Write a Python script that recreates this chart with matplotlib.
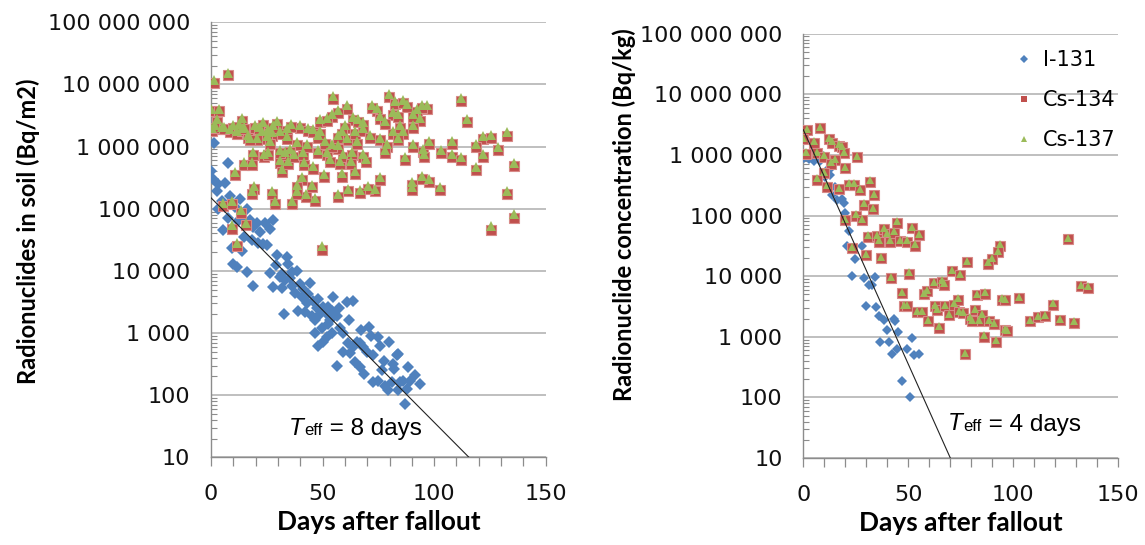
import numpy as np
import matplotlib.pyplot as plt
from matplotlib.ticker import FixedLocator, FuncFormatter, LogLocator, MultipleLocator, NullFormatter
from matplotlib.lines import Line2D

# ---- soil (left panel) ----
soil_cs_days = [1.3, 7.8, 0, 3.7, 0.3, 2.5, 4.8, 8.5, 11.5, 13.7, 13.7, 16.7, 19.7, 23.4, 25.7, 29.4, 33.9, 39.9, 43.6, 48.8,
                54.1, 54.8, 60.8, 63.8, 68.3, 74.2, 75.7, 79.7, 82.4, 81.7, 87.7, 92.2, 96.6, 93.6, 90.6, 86.2, 111.9, 114.6, 121.7, 125.7,
                132.7, 128.7, 118.7, 121.7, 135.7, 107.8, 107.8, 102.9, 111.9, 118.6, 132.7, 135.7, 125.7, 49.9, 102.6, 97.7, 94.4, 89.9, 90.2, 86.9,
                75.7, 73.5, 70.5, 66.8, 61.5, 56.8, 64.5, 58.6, 50.6, 46.6, 42.6, 45.1, 40.6, 38.4, 38.4, 36.2, 28.7, 27.2, 19.3, 18.5,
                10.8, 14.9, 18.2, 18.7, 23.7, 25.7, 30.9, 31.7, 34.6, 37.3, 41.3, 41.8, 45.8, 48.1, 51.8, 53.3, 57.8, 59.3, 63.0, 62.9,
                68.3, 69.5, 65.3, 60.8, 57.1, 54.1, 51.1, 48.1, 45.8, 48.8, 42.9, 38.4, 35.4, 33.2, 30.9, 34.2, 30.9, 27.2, 25.0, 22.7,
                20.5, 17.5, 26.4, 75.7, 78.7, 78.0, 81.7, 83.9, 84.7, 90.6, 84.0, 78.0, 60.0, 58.6, 56.8, 64.5, 68.3, 71.3, 90.6, 95.1,
                95.6, 97.7, 5.5, 9.3, 13.4, 9.5, 15.5, 11.5, 2.0, 6.0, 10.0, 12.5, 15.0, 21.5, 28.0, 36.0, 52.0, 57.0, 66.0, 72.0,
                86.0, 94.5]
soil_cs134 = [1.05e7, 1.4e7, 3.7e6, 3.7e6, 1.8e6, 2.5e6, 1.9e6, 1.7e6, 1.6e6, 2.6e6, 1.8e6, 1.4e6, 2.0e6, 2.2e6, 1.7e6, 2.3e6, 1.8e6, 2.0e6, 1.8e6, 2.5e6,
              3.0e6, 5.9e6, 4.1e6, 2.7e6, 2.2e6, 3.8e6, 2.8e6, 6.3e6, 4.9e6, 3.2e6, 4.4e6, 3.6e6, 4.1e6, 2.6e6, 2.0e6, 1.6e6, 5.4e6, 2.5e6, 1.35e6, 1.4e6,
              1.5e6, 8.7e5, 9.8e5, 6.8e5, 4.8e5, 1.1e6, 6.9e5, 7.8e5, 6.2e5, 4.2e5, 1.7e5, 7.2e4, 4.6e4, 2.2e4, 2.0e5, 2.7e5, 3.0e5, 2.4e5, 2.0e5, 6.0e5,
              2.9e5, 1.9e5, 2.1e5, 1.8e5, 1.9e5, 1.55e5, 3.6e5, 3.3e5, 3.2e5, 1.35e5, 1.55e5, 2.2e5, 2.9e5, 2.2e5, 1.7e5, 1.2e5, 1.2e5, 1.7e5, 2.1e5, 1.7e5,
              3.5e5, 5.0e5, 5.0e5, 7.4e5, 6.9e5, 7.4e5, 5.4e5, 3.9e5, 5.2e5, 6.8e5, 7.4e5, 5.0e5, 4.4e5, 7.8e5, 7.2e5, 5.6e5, 5.2e5, 6.8e5, 7.2e5, 5.2e5,
              6.8e5, 5.6e5, 1.1e6, 1.26e6, 9.3e5, 9.8e5, 1.1e6, 1.4e6, 1.7e6, 1.6e6, 9.8e5, 1.05e6, 8.1e5, 7.2e5, 7.8e5, 1.35e6, 1.6e6, 1.5e6, 1.35e6, 1.6e6,
              1.26e6, 1.26e6, 1.1e6, 1.26e6, 9.8e5, 7.8e5, 1.6e6, 1.26e6, 2.0e6, 3.0e6, 3.0e6, 2.3e6, 2.0e6, 1.6e6, 1.4e6, 1.6e6, 1.8e6, 1.4e6, 9.8e5, 8.1e5,
              6.8e5, 1.1e6, 1.1e5, 1.2e5, 8.5e4, 4.8e4, 5.4e4, 2.5e4, 2.0e6, 1.9e6, 2.0e6, 2.1e6, 1.9e6, 1.9e6, 2.0e6, 2.1e6, 2.6e6, 3.5e6, 2.5e6, 4.2e6,
              5.0e6, 4.2e6]
soil_cs137 = [1.2e7, 1.55e7, 4.1e6, 4.1e6, 2.0e6, 2.8e6, 2.1e6, 1.9e6, 1.8e6, 2.9e6, 2.0e6, 1.55e6, 2.25e6, 2.45e6, 1.9e6, 2.6e6, 2.0e6, 2.25e6, 2.0e6, 2.8e6,
              3.35e6, 6.6e6, 4.6e6, 3.0e6, 2.45e6, 4.25e6, 3.15e6, 7.0e6, 5.5e6, 3.6e6, 4.9e6, 4.0e6, 4.6e6, 2.9e6, 2.25e6, 1.8e6, 6.0e6, 2.8e6, 1.5e6, 1.55e6,
              1.7e6, 9.7e5, 1.1e6, 7.6e5, 5.4e5, 1.25e6, 7.7e5, 8.7e5, 6.9e5, 4.7e5, 1.9e5, 8.1e4, 5.2e4, 2.5e4, 2.25e5, 3.0e5, 3.35e5, 2.7e5, 2.25e5, 6.7e5,
              3.25e5, 2.1e5, 2.35e5, 2.0e5, 2.1e5, 1.75e5, 4.0e5, 3.7e5, 3.6e5, 1.5e5, 1.75e5, 2.45e5, 3.25e5, 2.45e5, 1.9e5, 1.35e5, 1.35e5, 1.9e5, 2.35e5, 1.9e5,
              3.9e5, 5.6e5, 5.6e5, 8.3e5, 7.7e5, 8.3e5, 6.0e5, 4.4e5, 5.8e5, 7.6e5, 8.3e5, 5.6e5, 4.9e5, 8.7e5, 8.1e5, 6.3e5, 5.8e5, 7.6e5, 8.1e5, 5.8e5,
              7.6e5, 6.3e5, 1.25e6, 1.4e6, 1.05e6, 1.1e6, 1.25e6, 1.55e6, 1.9e6, 1.8e6, 1.1e6, 1.2e6, 9.1e5, 8.1e5, 8.7e5, 1.5e6, 1.8e6, 1.7e6, 1.5e6, 1.8e6,
              1.4e6, 1.4e6, 1.25e6, 1.4e6, 1.1e6, 8.7e5, 1.8e6, 1.4e6, 2.25e6, 3.35e6, 3.35e6, 2.6e6, 2.25e6, 1.8e6, 1.55e6, 1.8e6, 2.0e6, 1.55e6, 1.1e6, 9.1e5,
              7.6e5, 1.25e6, 1.25e5, 1.35e5, 9.5e4, 5.4e4, 6.0e4, 2.8e4, 2.25e6, 2.1e6, 2.25e6, 2.35e6, 2.1e6, 2.1e6, 2.25e6, 2.35e6, 2.9e6, 3.9e6, 2.8e6, 4.7e6,
              5.6e6, 4.7e6]
soil_i_days = [1.3, 7.8, 0, 0.8, 3.3, 6.3, 2.5, 8.5, 13, 4.8, 6.3, 10.8, 16, 13.7, 7.8, 17.5, 20.5, 24.2, 27.9, 26.4,
               19, 5.5, 18.2, 21.2, 23.4, 24.9, 9.3, 13.7, 29.4, 33.9, 10, 11.5, 16, 26.4, 31.7, 38.7, 34.6, 18.7, 30.9, 27.6,
               31.7, 33.2, 35.4, 36.2, 37.6, 39.9, 41.4, 40.6, 43.6, 39.1, 32.7, 43.2, 45.8, 48.1, 47.4, 45.1, 42.1, 46.6, 50.3, 52.6,
               54.1, 51.8, 48.8, 54.8, 56.6, 52.6, 49.6, 46.6, 54.1, 57.8, 59.3, 60.8, 63.8, 56.3, 50.3, 48.1, 51.8, 59.3, 61.5, 63.8,
               62.3, 65.3, 66.8, 68.3, 69.8, 70.9, 64.5, 66.8, 68.5, 72.7, 75, 75.7, 79.9, 76.5, 72.7, 75, 78, 79.5, 81, 81.7,
               83.2, 84, 82.2, 84.7, 83.9, 86.2, 88.4, 89.1, 91.4, 93.6, 86.9, 22, 15, 36.5, 44.5, 57.5, 53.5, 62, 67, 71.5,
               77.5, 88, 29, 12, 3]
soil_i131 = [1.15e6, 5.5e5, 4.1e5, 3.0e5, 2.5e5, 2.6e5, 1.95e5, 1.6e5, 1.45e5, 1.35e5, 1.07e5, 1.07e5, 1.0e5, 7.2e4, 7.2e4, 6.5e4, 6.0e4, 6.0e4, 6.5e4, 4.8e4,
             5.0e4, 4.5e4, 3.1e4, 2.8e4, 2.75e4, 2.6e4, 2.3e4, 2.1e4, 1.8e4, 1.65e4, 1.3e4, 1.15e4, 9.5e3, 9.1e3, 8.9e3, 1.0e4, 1.3e4, 5.8e3, 7.9e3, 5.6e3,
             5.4e3, 7.1e3, 7.8e3, 5.8e3, 4.4e3, 6.2e3, 5.1e3, 3.8e3, 4.3e3, 2.3e3, 2.0e3, 3.0e3, 3.3e3, 3.5e3, 2.5e3, 1.9e3, 2.2e3, 1.6e3, 2.6e3, 2.6e3,
             2.3e3, 2.0e3, 2.0e3, 3.8e3, 1.9e3, 1.4e3, 1.2e3, 1.0e3, 1.0e3, 1.2e3, 1.0e3, 3.2e3, 3.3e3, 300, 710, 630, 850, 490, 680, 590,
             470, 710, 680, 590, 490, 1.26e3, 340, 280, 220, 440, 850, 630, 710, 250, 160, 170, 140, 120, 160, 320,
             440, 460, 260, 160, 120, 170, 280, 170, 210, 150, 71, 4.2e4, 3.5e4, 9.5e3, 6.3e3, 2.5e3, 1.6e3, 1.6e3, 1.1e3, 890,
             350, 125, 1.26e4, 6.3e4, 1.0e5]
soil_fit_days = [0, 115.6]
soil_fit_vals = [1.5e5, 10]

# ---- concentration (right panel) ----
conc_cs_days = [1.8, 7.8, 0, 4.9, 12, 13.6, 16.8, 18.3, 19.2, 1.3, 6.5, 9.7, 25.6, 14.9, 13.3, 20, 9.7, 6.5, 11.3, 16.8,
                21.6, 24, 27.1, 31.9, 33.8, 28.7, 33, 25.2, 27.9, 20, 30.8, 35.1, 38.2, 39.8, 41.4, 43, 44.6, 46.2, 49.4, 51.7,
                54.9, 53, 35.9, 23.2, 29.8, 37.1, 41.9, 50.1, 47, 47.8, 49.4, 54.1, 56.5, 57.3, 58.9, 62.1, 66.1, 66.9, 70.8, 74.8,
                62.8, 63.6, 67.6, 69.2, 71.6, 73.6, 59.6, 64.7, 126, 93.8, 92.7, 89.8, 87.9, 77.9, 132.3, 135.5, 82.7, 86.6, 94.6, 96.2,
                102.8, 118.7, 73.9, 76, 79.5, 81.9, 85, 83.5, 80.3, 88.2, 90.6, 96.2, 96.9, 108, 111.7, 114.9, 122, 128.7, 85.8, 91.7,
                76.8]
conc_cs134 = [2.6e6, 2.8e6, 1.8e6, 1.6e6, 1.8e6, 1.6e6, 1.4e6, 1.35e6, 1.07e6, 1.05e6, 1.07e6, 9.3e5, 9.1e5, 8.3e5, 7.2e5, 6.0e5, 5.0e5, 3.9e5, 3.0e5, 2.75e5,
              3.2e5, 3.2e5, 2.6e5, 3.6e5, 2.2e5, 1.5e5, 1.3e5, 1.0e5, 8.5e4, 8.5e4, 4.5e4, 4.6e4, 5.9e4, 4.9e4, 3.7e4, 5.2e4, 7.6e4, 3.8e4, 3.7e4, 6.2e4,
              4.7e4, 3.2e4, 3.7e4, 2.9e4, 2.2e4, 2.0e4, 9.3e3, 1.1e4, 5.2e3, 3.2e3, 3.2e3, 2.6e3, 2.6e3, 5.0e3, 5.6e3, 7.6e3, 8.1e3, 7.2e3, 1.2e4, 1.05e4,
              3.2e3, 2.8e3, 3.2e3, 2.3e3, 3.4e3, 4.1e3, 1.8e3, 1.4e3, 4.1e4, 3.2e4, 2.5e4, 1.9e4, 1.6e4, 1.7e4, 6.8e3, 6.5e3, 4.8e3, 5.1e3, 4.1e3, 4.0e3,
              4.4e3, 3.4e3, 2.6e3, 2.5e3, 2.0e3, 2.8e3, 2.3e3, 1.8e3, 1.8e3, 1.8e3, 1.6e3, 1.3e3, 1.26e3, 1.8e3, 2.1e3, 2.2e3, 1.9e3, 1.7e3, 1.0e3, 830,
              520]
conc_cs137 = [2.7e6, 2.9e6, 1.9e6, 1.7e6, 1.9e6, 1.7e6, 1.5e6, 1.4e6, 1.1e6, 1.1e6, 1.1e6, 9.8e5, 9.6e5, 8.7e5, 7.6e5, 6.3e5, 5.3e5, 4.1e5, 3.15e5, 2.9e5,
              3.4e5, 3.4e5, 2.7e5, 3.8e5, 2.3e5, 1.6e5, 1.35e5, 1.05e5, 8.9e4, 8.9e4, 4.7e4, 4.8e4, 6.2e4, 5.1e4, 3.9e4, 5.5e4, 8.0e4, 4.0e4, 3.9e4, 6.5e4,
              4.9e4, 3.4e4, 3.9e4, 3.0e4, 2.3e4, 2.1e4, 9.8e3, 1.15e4, 5.5e3, 3.4e3, 3.4e3, 2.7e3, 2.7e3, 5.3e3, 5.9e3, 8.0e3, 8.5e3, 7.6e3, 1.25e4, 1.1e4,
              3.4e3, 2.9e3, 3.4e3, 2.4e3, 3.6e3, 4.3e3, 1.9e3, 1.5e3, 4.3e4, 3.4e4, 2.6e4, 2.0e4, 1.7e4, 1.8e4, 7.1e3, 6.8e3, 5.0e3, 5.4e3, 4.3e3, 4.2e3,
              4.6e3, 3.6e3, 2.7e3, 2.6e3, 2.1e3, 2.9e3, 2.4e3, 1.9e3, 1.9e3, 1.9e3, 1.7e3, 1.35e3, 1.3e3, 1.9e3, 2.2e3, 2.3e3, 2.0e3, 1.8e3, 1.05e3, 870,
              550]
conc_i_days = [0, 2.5, 4.9, 8.1, 11.3, 12.8, 15.2, 13.6, 16, 18.3, 19.2, 20, 21.6, 20.8, 24.7, 27.9, 23.2, 28.7, 31.1, 33.9,
               32.9, 30, 34.8, 35.9, 38.2, 39.8, 43, 43.8, 45.1, 51.8, 36.7, 40.9, 44.6, 49.4, 42.2, 52.5, 55.2, 47, 50.6, 0.2,
               4.9, 7.8, 12, 10.5]
conc_i131 = [2.5e6, 8.5e5, 8.5e5, 7.8e5, 5.6e5, 4.7e5, 3.0e5, 2.2e5, 1.8e5, 1.9e5, 1.6e5, 1.1e5, 5.5e4, 3.1e4, 1.9e4, 3.1e4, 1.0e4, 9.3e3, 7.2e3, 9.8e3,
             7.1e3, 3.2e3, 3.1e3, 2.2e3, 1.9e3, 1.3e3, 2.0e3, 1.8e3, 1.2e3, 950, 810, 810, 630, 630, 520, 510, 520, 190, 100, 9.0e5,
             7.8e5, 1.07e6, 5.6e5, 4.4e5]
conc_fit_days = [0, 70]
conc_fit_vals = [2.6e6, 10]

series_names = ["I-131", "Cs-134", "Cs-137"]
ytick_vals = [10, 100, 1000, 10000, 100000, 1000000, 10000000, 100000000]
xtick_vals = [0, 50, 100, 150]

BLUE = "#4F81BD"
RED = "#C0504D"
GREEN = "#9BBB59"
GRID = "#B4B4B4"
SPINE = "#8C8C8C"
LABEL_FONT = "Lato"


def spaced(v, pos=None):
    return f"{int(round(v)):,}".replace(",", " ")


def style_axis(ax, ylabel):
    ax.set_yscale("log")
    ax.set_ylim(10, 1e8)
    ax.set_xlim(0, 150)
    ax.yaxis.set_major_locator(FixedLocator(ytick_vals))
    ax.yaxis.set_major_formatter(FuncFormatter(spaced))
    ax.yaxis.set_minor_locator(LogLocator(base=10, subs=np.arange(2, 10)))
    ax.yaxis.set_minor_formatter(NullFormatter())
    ax.xaxis.set_major_locator(FixedLocator(xtick_vals))
    ax.xaxis.set_minor_locator(MultipleLocator(10))
    ax.grid(axis="y", which="major", color=GRID, linewidth=1.2)
    ax.set_axisbelow(True)
    for s in ["top", "right"]:
        ax.spines[s].set_visible(False)
    for s in ["left", "bottom"]:
        ax.spines[s].set_color(SPINE)
        ax.spines[s].set_linewidth(1.0)
    ax.tick_params(axis="y", which="major", length=0, pad=15, labelsize=16, labelcolor="#111111")
    ax.tick_params(axis="y", which="minor", direction="in", length=4, width=0.8, color=SPINE)
    ax.tick_params(axis="x", which="both", direction="out", length=6.5, width=0.9, color=SPINE)
    ax.tick_params(axis="x", which="major", pad=13, labelsize=16, labelcolor="#111111")
    ax.set_xlabel("Days after fallout", fontsize=19, fontweight="bold", family=LABEL_FONT, labelpad=4)
    ax.set_ylabel(ylabel, fontsize=17, fontweight="bold", family=LABEL_FONT)


def teff_label(ax, x, y, txt):
    t1 = ax.text(x, y, "T", transform=ax.transAxes, fontsize=17.5, style="italic",
                 family="Liberation Sans", va="baseline")
    t2 = ax.annotate("eff", xy=(1, 0), xycoords=t1, fontsize=12, family="Liberation Sans",
                     va="bottom", xytext=(0.5, 1), textcoords="offset points")
    ax.annotate(txt, xy=(1, 0), xycoords=t2, fontsize=17.5, family="Liberation Sans",
                va="bottom", xytext=(0, -1.5), textcoords="offset points")


fig = plt.figure(figsize=(11.45, 5.45), dpi=100)
ax1 = fig.add_axes([0.1843, 0.1609, 0.2923, 0.7981])
ax2 = fig.add_axes([0.7016, 0.1596, 0.2751, 0.7786])

# left: soil
ax1.plot(soil_i_days, soil_i131, "D", ms=6.5, color=BLUE, mec=BLUE, mew=0, zorder=3)
ax1.plot(soil_cs_days, soil_cs134, "s", ms=7.5, color=RED, mec="#D88A88", mew=0.8, zorder=4)
ax1.plot(soil_cs_days, soil_cs137, "^", ms=7.5, color=GREEN, mec=GREEN, mew=0, zorder=5)
ax1.plot(soil_fit_days, soil_fit_vals, "-", color="#222222", lw=0.8, zorder=6)
style_axis(ax1, "Radionuclides in soil (Bq/m2)")
ax1.yaxis.set_label_coords(-0.51, 0.52)
teff_label(ax1, 0.233, 0.052, " = 8 days")

# right: concentration
ax2.plot(conc_i_days, conc_i131, "D", ms=5.5, color=BLUE, mec=BLUE, mew=0, zorder=3)
ax2.plot(conc_cs_days, conc_cs134, "s", ms=6.5, color=RED, mec="#D88A88", mew=0.8, zorder=4)
ax2.plot(conc_cs_days, conc_cs137, "^", ms=5.5, color=GREEN, mec=GREEN, mew=0, zorder=5)
ax2.plot(conc_fit_days, conc_fit_vals, "-", color="#222222", lw=0.8, zorder=6)
style_axis(ax2, "Radionuclide concentration (Bq/kg)")
ax2.yaxis.set_label_coords(-0.53, 0.573)
teff_label(ax2, 0.459, 0.066, " = 4 days")

handles = [Line2D([], [], ls="none", marker="D", ms=4.5, color=BLUE, mew=0),
           Line2D([], [], ls="none", marker="s", ms=5, color=RED, mew=0),
           Line2D([], [], ls="none", marker="^", ms=5, color=GREEN, mew=0)]
ax2.legend(handles, series_names, loc="upper right", bbox_to_anchor=(1.05, 1.005), frameon=False,
           fontsize=15, handlelength=0.8, handletextpad=0.5, labelspacing=0.95)

fig.savefig("out.png", dpi=100)
